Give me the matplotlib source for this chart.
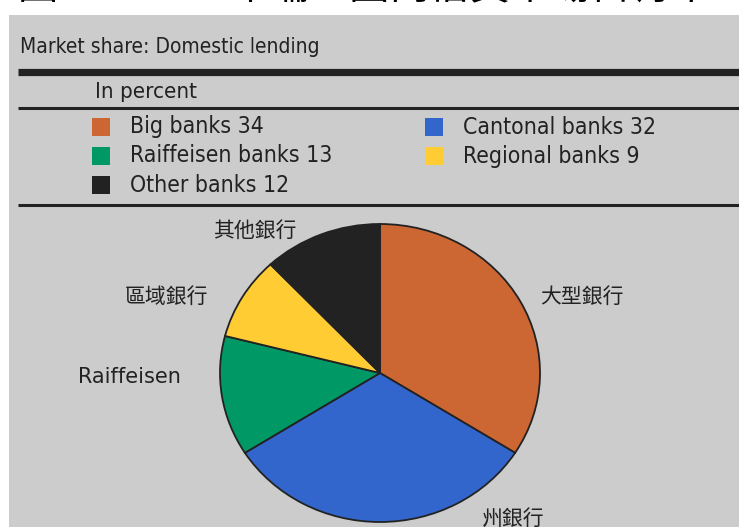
import matplotlib
matplotlib.use("Agg")
import matplotlib.pyplot as plt
from matplotlib.patches import Rectangle
from matplotlib.lines import Line2D
from matplotlib import font_manager

# Data
categories = ["Big banks", "Cantonal banks", "Raiffeisen banks", "Regional banks", "Other banks"]
shares = [34, 32, 13, 9, 12]
pie_labels = ["大型銀行", "州銀行", "Raiffeisen", "區域銀行", "其他銀行"]
colors = ["#CC6633", "#3366CC", "#009966", "#FFCC33", "#222222"]

W, H = 739, 527
fig = plt.figure(figsize=(W / 100, H / 100), dpi=100, facecolor="white")

# narrow face for the panel texts
fonts = font_manager.fontManager.ttflist
has_condensed = any(f.name == "DejaVu Sans" and f.stretch == "condensed" for f in fonts)
if has_condensed:
    narrow = dict(family="DejaVu Sans", stretch="condensed")
    title_fs, sub_fs, leg_fs = 15, 16, 16.5
else:
    narrow = dict(family="Liberation Sans")
    title_fs, sub_fs, leg_fs = 14.5, 15, 15.5
cjk = ["DejaVu Sans", "Noto Sans CJK TC"]


def fx(px):
    return px / W


def fy(py):
    return 1 - py / H


# grey panel
fig.patches.append(Rectangle((fx(9), 0), 1 - fx(9), fy(15), transform=fig.transFigure,
                             facecolor="#CCCCCC", edgecolor="none", zorder=-5))

# heading above the panel (cut by the top edge)
fig.text(fx(18), fy(-2), "圖 3　2010 年瑞士國內借貸市場占有率", fontsize=29,
         family=["Noto Sans CJK TC", "DejaVu Sans"], color="black", va="baseline", ha="left")

# panel title and rules
fig.text(fx(20), fy(47), "Market share: Domestic lending", fontsize=title_fs,
         color="#222222", va="center", ha="left", **narrow)
fig.add_artist(Line2D([fx(18), 1], [fy(71.5), fy(71.5)], transform=fig.transFigure,
                      color="#222222", lw=5.2, solid_capstyle="butt"))
fig.text(fx(95), fy(92), "In percent", fontsize=sub_fs,
         color="#222222", va="center", ha="left", **narrow)
fig.add_artist(Line2D([fx(18), 1], [fy(108.5), fy(108.5)], transform=fig.transFigure,
                      color="#222222", lw=2.2, solid_capstyle="butt"))
fig.add_artist(Line2D([fx(18), 1], [fy(204.5), fy(204.5)], transform=fig.transFigure,
                      color="#222222", lw=2.2, solid_capstyle="butt"))

# legend: two columns, row-major
col_x = [92, 425]
row_y = [127, 156, 185]
for i, (name, val, c) in enumerate(zip(categories, shares, colors)):
    r, col = divmod(i, 2)
    x0, y0 = col_x[col], row_y[r]
    fig.patches.append(Rectangle((fx(x0), fy(y0 + 9)), fx(18), 18 / H,
                                 transform=fig.transFigure, facecolor=c, edgecolor="none"))
    fig.text(fx(x0 + 38), fy(y0), f"{name} {val}", fontsize=leg_fs,
             color="#222222", va="center", ha="left", **narrow)

# pie (slightly elliptical, as in the published panel)
cx, cy, rx, ry = 380, 373, 160, 149
lim = 1.25
aw, ah = 2 * lim * rx, 2 * lim * ry
ax = fig.add_axes([fx(cx - aw / 2), fy(cy + ah / 2), aw / W, ah / H], zorder=2)
ax.pie(shares, colors=colors, startangle=90, counterclock=False,
       wedgeprops=dict(edgecolor="#222222", linewidth=1.3))
ax.set_aspect("auto")
ax.set_xlim(-lim, lim)
ax.set_ylim(-lim, lim)
ax.axis("off")


def dx(px):
    return (px - cx) / rx


def dy(py):
    return (cy - py) / ry


label_pos = [(540, 297, "left"), (482, 519, "left"), (181, 377, "right"),
             (208, 297, "right"), (297, 231, "right")]
for txt, (px, py, ha) in zip(pie_labels, label_pos):
    ax.text(dx(px), dy(py), txt, fontsize=15, family=cjk, color="#222222",
            ha=ha, va="center", clip_on=False)

fig.savefig("out.png", dpi=100, facecolor="white")
